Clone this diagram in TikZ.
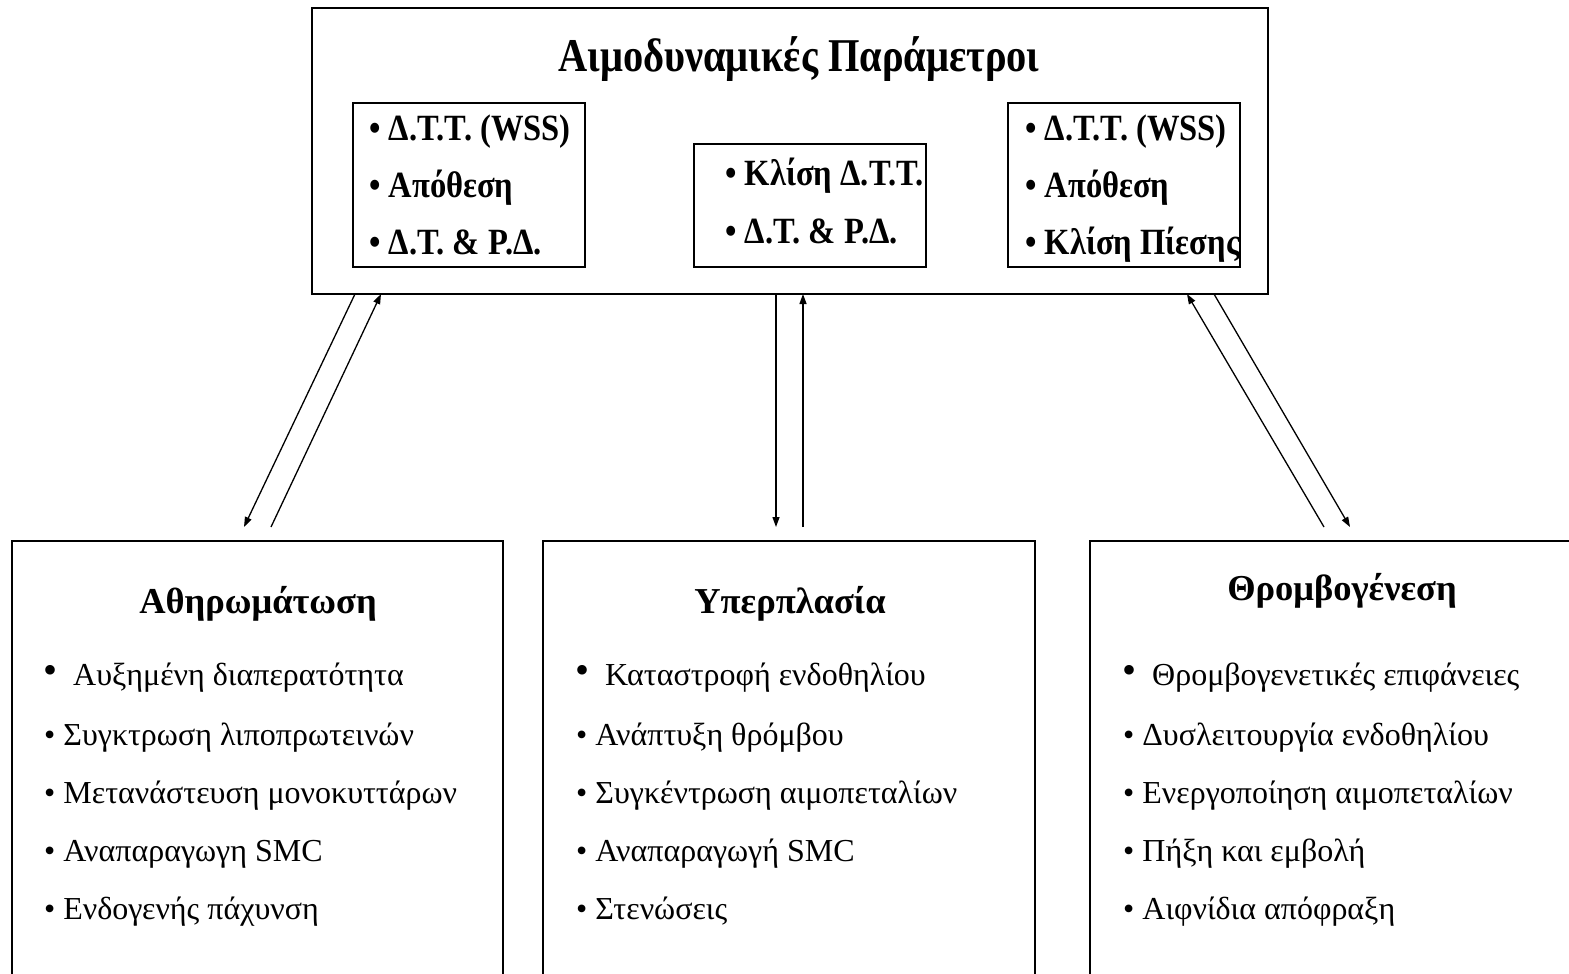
\documentclass[tikz,border=0pt]{standalone}
\usepackage{fontspec}
\setmainfont{Liberation Serif}
\usetikzlibrary{arrows.meta}
\newcommand{\narrow}[1]{\scalebox{0.88}[1]{#1}}

\begin{document}
\begin{tikzpicture}[x=1pt, y=-1pt,
  frame/.style={draw, line width=1.8pt, inner sep=0pt, outer sep=0pt},
  head/.style={anchor=base, inner sep=0pt, font=\bfseries\fontsize{36.5}{36.5}\selectfont},
  param/.style={anchor=base west, inner sep=0pt, font=\bfseries\fontsize{37}{37}\selectfont},
  item/.style={anchor=base west, inner sep=0pt, font=\fontsize{32}{32}\selectfont},
  link/.style={-{Triangle[length=10pt,width=7pt]}, line width=1.3pt}]
\useasboundingbox (0,0) rectangle (1569,974);

% top box with the three groups of parameters
\node[frame, minimum width=956pt, minimum height=286pt] (params) at (790,151) {};
\node[head, font=\bfseries\fontsize{47}{47}\selectfont] (paramtitle) at (799,72) {\scalebox{0.86}[1]{Αιμοδυναμικές Παράμετροι}};
\node[frame, minimum width=232pt, minimum height=164pt] (left) at (469,185) {};
\node[frame, minimum width=232pt, minimum height=123pt] (mid) at (810,205.5) {};
\node[frame, minimum width=232pt, minimum height=164pt] (right) at (1124,185) {};
\foreach \t [count=\i] in {Δ.Τ.Τ. (WSS), Απόθεση, Δ.Τ. \& Ρ.Δ.}
  \node[param] (left-\i) at (369,140+57*\i-57) {\narrow{• \t}};
\foreach \t [count=\i] in {Κλίση Δ.Τ.Τ., Δ.Τ. \& Ρ.Δ.}
  \node[param] (mid-\i) at (725,185+58*\i-58) {\narrow{• \t}};
\foreach \t [count=\i] in {Δ.Τ.Τ. (WSS), Απόθεση, Κλίση Πίεσης}
  \node[param] (right-\i) at (1025,140+57*\i-57) {\narrow{• \t}};

% bottom boxes
\node[frame, minimum width=491pt, minimum height=469pt] (ath) at (257.5,775.5) {};
\node[frame, minimum width=492pt, minimum height=469pt] (hyp) at (789,775.5) {};
\node[frame, minimum width=500pt, minimum height=469pt] (thr) at (1340,775.5) {};
\node[head] (athtitle) at (258,613) {Αθηρωμάτωση};
\node[head] (hyptitle) at (790,613) {Υπερπλασία};
\node[head] (thrtitle) at (1342,600) {Θρομβογένεση};

\node[item] (ath-1) at (43,685) {\raisebox{2pt}{\fontsize{40}{40}\selectfont •}\ \ Αυξημένη διαπερατότητα};
\foreach \t [count=\i from 2] in {Συγκτρωση λιποπρωτεινών, Μετανάστευση μονοκυττάρων, Αναπαραγωγη SMC, Ενδογενής πάχυνση}
  \node[item] (ath-\i) at (44,745+58*\i-116) {•\ \t};
\node[item] (hyp-1) at (575,685) {\raisebox{2pt}{\fontsize{40}{40}\selectfont •}\ \ Καταστροφή ενδοθηλίου};
\foreach \t [count=\i from 2] in {Ανάπτυξη θρόμβου, Συγκέντρωση αιμοπεταλίων, Αναπαραγωγή SMC, Στενώσεις}
  \node[item] (hyp-\i) at (576,745+58*\i-116) {•\ \t};
\node[item] (thr-1) at (1122,685) {\raisebox{2pt}{\fontsize{40}{40}\selectfont •}\ \ Θρομβογενετικές επιφάνειες};
\foreach \t [count=\i from 2] in {Δυσλειτουργία ενδοθηλίου, Ενεργοποίηση αιμοπεταλίων, Πήξη και εμβολή, Αιφνίδια απόφραξη}
  \node[item] (thr-\i) at (1123,745+58*\i-116) {•\ \t};

% arrows between the boxes
\draw[link] ([xshift=43pt]params.south west) -- ([xshift=232pt,yshift=14pt]ath.north west);
\draw[link] ([xshift=259pt,yshift=14pt]ath.north west) -- ([xshift=69pt]params.south west);
\draw[link] ([xshift=464pt]params.south west) -- ([xshift=233pt,yshift=14pt]hyp.north west);
\draw[link] ([xshift=260pt,yshift=14pt]hyp.north west) -- ([xshift=491pt]params.south west);
\draw[link] ([xshift=234pt,yshift=14pt]thr.north west) -- ([xshift=875pt]params.south west);
\draw[link] ([xshift=902pt]params.south west) -- ([xshift=260pt,yshift=14pt]thr.north west);
\end{tikzpicture}
\end{document}
